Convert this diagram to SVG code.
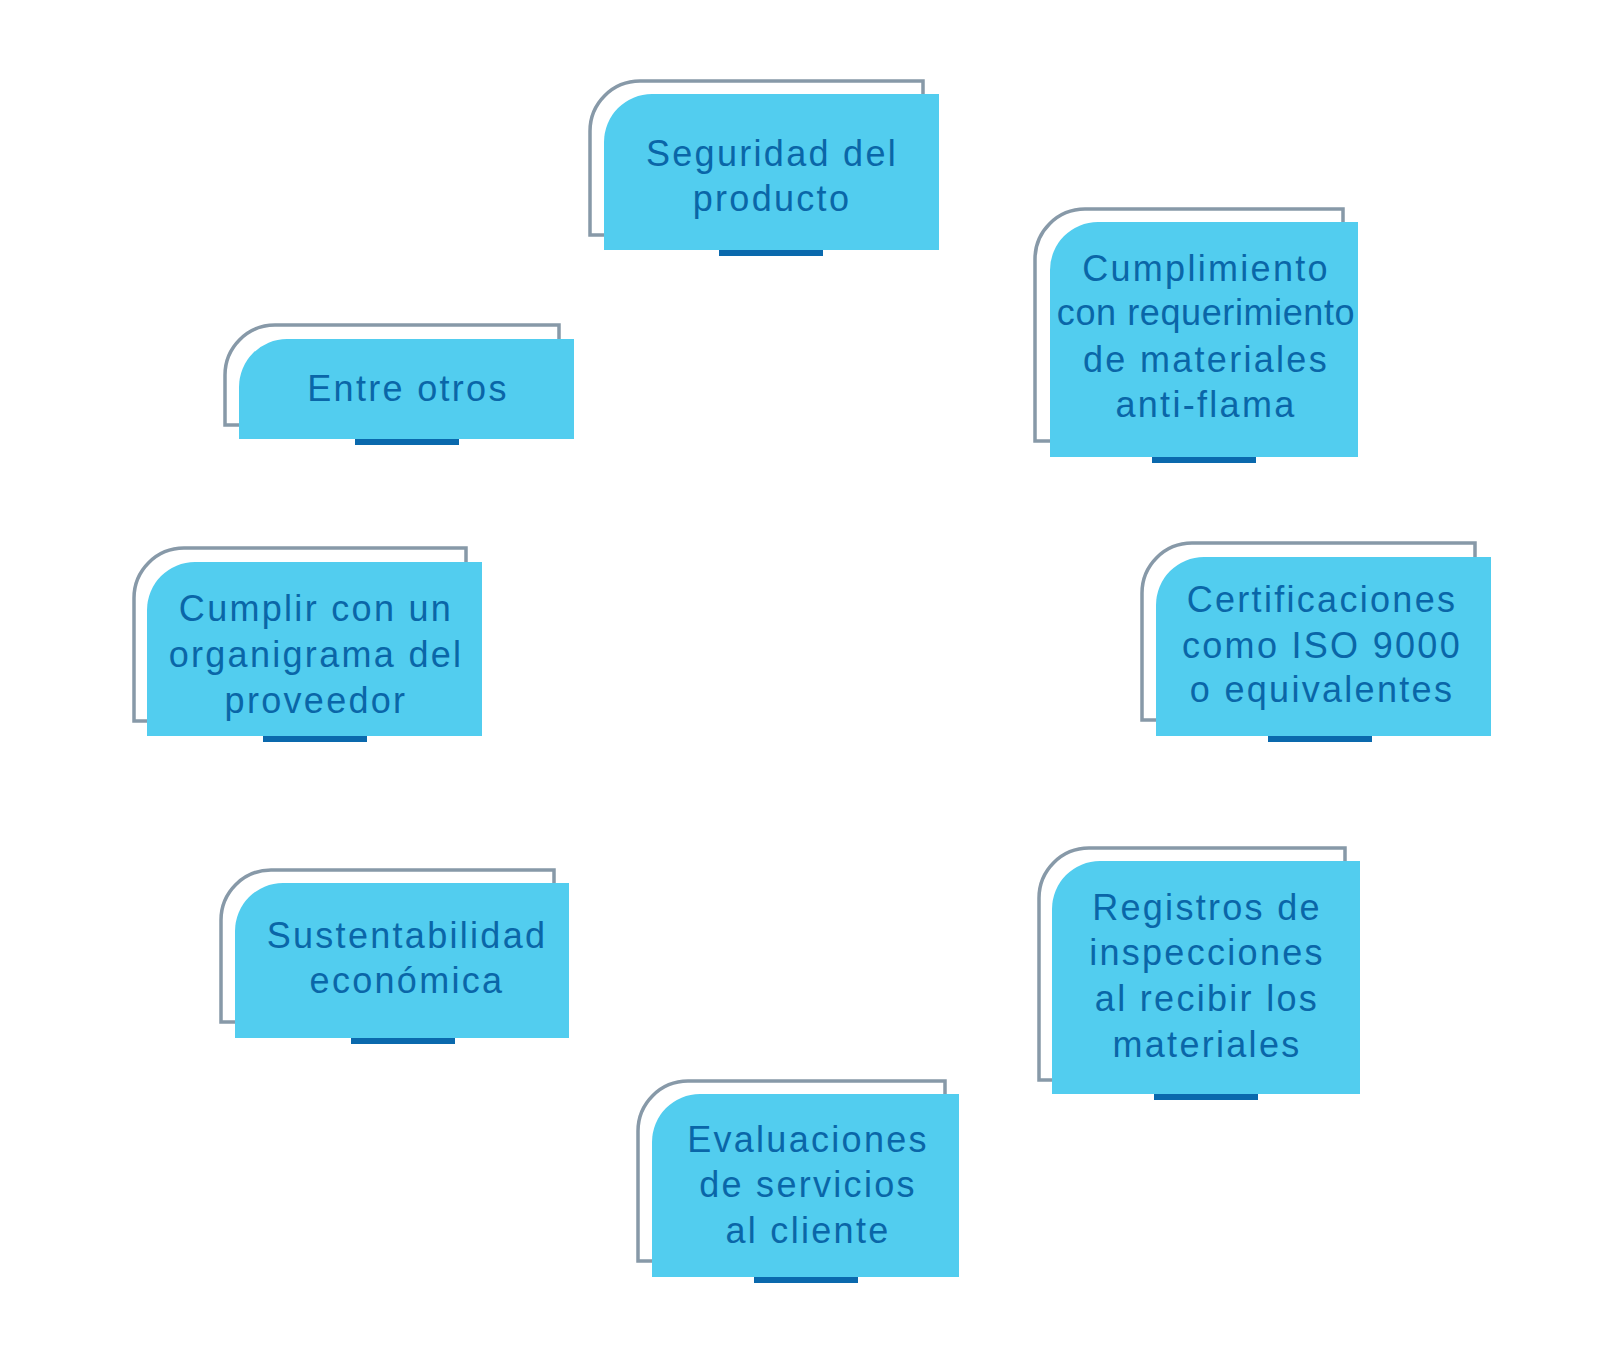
<svg xmlns="http://www.w3.org/2000/svg" width="1624" height="1364" viewBox="0 0 1624 1364">
<style>
.o{fill:#ffffff;stroke:#8799a8;stroke-width:3.5}
.f{fill:#52cdef}
.b{fill:#0a69ad}
.t{font-family:"Liberation Sans",Arial,sans-serif;font-size:36px;fill:#0a66a8;text-anchor:middle;letter-spacing:2.3px}
</style>
<rect width="1624" height="1364" fill="#ffffff"/>
<g id="connectors"></g>
<g id="n1">
<path class="o" d="M590,235 V131 A50,50 0 0 1 640,81 H923 V235 Z"/>
<path class="f" d="M604,250 V142 A48,48 0 0 1 652,94 H939 V250 Z"/>
<rect class="b" x="719" y="250" width="104" height="6"/>
<text class="t" x="772" y="166">Seguridad del</text>
<text class="t" x="772" y="211">producto</text>
</g>
<g id="n2">
<path class="o" d="M1035,441 V259 A50,50 0 0 1 1085,209 H1343 V441 Z"/>
<path class="f" d="M1050,457 V270 A48,48 0 0 1 1098,222 H1358 V457 Z"/>
<rect class="b" x="1152" y="457" width="104" height="6"/>
<text class="t" x="1206" y="281">Cumplimiento</text>
<text class="t" x="1206" y="325" style="letter-spacing:0.6px">con requerimiento</text>
<text class="t" x="1206" y="372">de materiales</text>
<text class="t" x="1206" y="417">anti-flama</text>
</g>
<g id="n3">
<path class="o" d="M225,425 V375 A50,50 0 0 1 275,325 H559 V425 Z"/>
<path class="f" d="M239,439 V387 A48,48 0 0 1 287,339 H574 V439 Z"/>
<rect class="b" x="355" y="439" width="104" height="6"/>
<text class="t" x="408" y="401">Entre otros</text>
</g>
<g id="n4">
<path class="o" d="M134,721 V598 A50,50 0 0 1 184,548 H466 V721 Z"/>
<path class="f" d="M147,736 V610 A48,48 0 0 1 195,562 H482 V736 Z"/>
<rect class="b" x="263" y="736" width="104" height="6"/>
<text class="t" x="316" y="621">Cumplir con un</text>
<text class="t" x="316" y="667">organigrama del</text>
<text class="t" x="316" y="713">proveedor</text>
</g>
<g id="n5">
<path class="o" d="M1142,720 V593 A50,50 0 0 1 1192,543 H1475 V720 Z"/>
<path class="f" d="M1156,736 V605 A48,48 0 0 1 1204,557 H1491 V736 Z"/>
<rect class="b" x="1268" y="736" width="104" height="6"/>
<text class="t" x="1322" y="612">Certificaciones</text>
<text class="t" x="1322" y="658">como ISO 9000</text>
<text class="t" x="1322" y="702">o equivalentes</text>
</g>
<g id="n6">
<path class="o" d="M221,1022 V920 A50,50 0 0 1 271,870 H554 V1022 Z"/>
<path class="f" d="M235,1038 V931 A48,48 0 0 1 283,883 H569 V1038 Z"/>
<rect class="b" x="351" y="1038" width="104" height="6"/>
<text class="t" x="407" y="948">Sustentabilidad</text>
<text class="t" x="407" y="993">económica</text>
</g>
<g id="n7">
<path class="o" d="M1039,1080 V898 A50,50 0 0 1 1089,848 H1345 V1080 Z"/>
<path class="f" d="M1052,1094 V909 A48,48 0 0 1 1100,861 H1360 V1094 Z"/>
<rect class="b" x="1154" y="1094" width="104" height="6"/>
<text class="t" x="1207" y="920">Registros de</text>
<text class="t" x="1207" y="965">inspecciones</text>
<text class="t" x="1207" y="1011">al recibir los</text>
<text class="t" x="1207" y="1057">materiales</text>
</g>
<g id="n8">
<path class="o" d="M638,1261 V1131 A50,50 0 0 1 688,1081 H945 V1261 Z"/>
<path class="f" d="M652,1277 V1142 A48,48 0 0 1 700,1094 H959 V1277 Z"/>
<rect class="b" x="754" y="1277" width="104" height="6"/>
<text class="t" x="808" y="1152">Evaluaciones</text>
<text class="t" x="808" y="1197">de servicios</text>
<text class="t" x="808" y="1243">al cliente</text>
</g>
</svg>
